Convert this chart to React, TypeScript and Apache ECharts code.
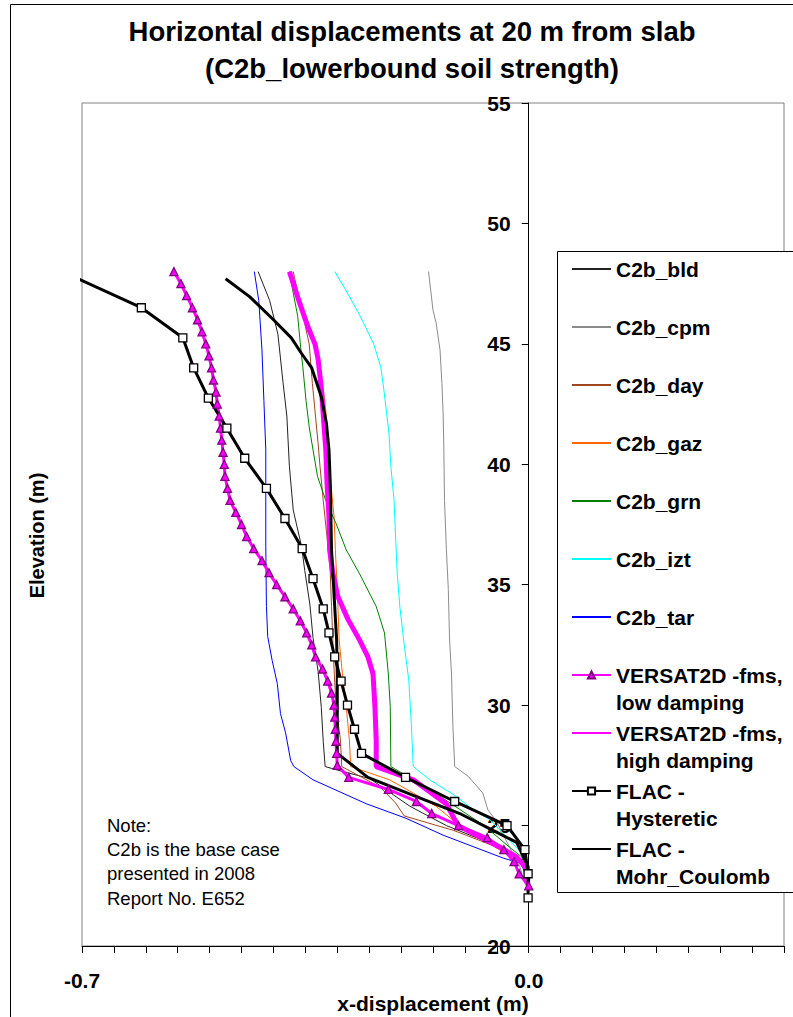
import { useEffect, useRef } from 'react';
import * as echarts from 'echarts';

const TITLE_LINES = ['Horizontal displacements at 20 m from slab', '(C2b_lowerbound soil strength)'];
const X_AXIS_NAME = 'x-displacement (m)';
const Y_AXIS_NAME = 'Elevation (m)';
const X_LABELLED_TICKS = [-0.7, 0.0];
const NOTE_LINES = ['Note:', 'C2b is the base case', 'presented in 2008', 'Report No. E652'];
const X_MIN = -0.7;
const X_MAX = 0.4;

// [x-displacement (m), elevation (m)]
const C2B_BLD: number[][] = [[-0.424,48],[-0.406,46.8],[-0.393,45.4],[-0.385,43.4],[-0.379,42.0],[-0.375,39.9],[-0.369,38.1],[-0.363,37.4],[-0.356,36.6],[-0.351,35.6],[-0.343,34.2],[-0.338,32.8],[-0.330,31.4],[-0.325,29.9],[-0.322,28.5],[-0.319,27.45],[-0.299,27.3],[-0.249,26.95],[-0.186,25.8],[-0.129,25.0],[-0.045,24.1],[-0.009,23.45],[0,22.7]];
const C2B_CPM: number[][] = [[-0.157,48],[-0.150,46.4],[-0.145,45.85],[-0.139,44.75],[-0.136,43.35],[-0.134,42.0],[-0.133,40.6],[-0.132,38.5],[-0.129,36.45],[-0.126,34.8],[-0.124,32.7],[-0.121,31.3],[-0.119,29.25],[-0.116,27.45],[-0.095,27.05],[-0.072,26.35],[-0.064,25.65],[-0.051,25.2],[-0.030,24.1],[-0.014,23.3],[-0.006,22.6],[0,22.3]];
const C2B_DAY: number[][] = [[-0.369,48],[-0.359,46.8],[-0.351,45.85],[-0.344,45.0],[-0.339,43.35],[-0.335,42.25],[-0.330,40.85],[-0.327,39.9],[-0.322,38.5],[-0.314,36.45],[-0.311,35.5],[-0.309,34.1],[-0.306,32.0],[-0.302,29.95],[-0.295,28.55],[-0.293,27.45],[-0.233,26.6],[-0.209,25.95],[-0.195,25.4],[-0.118,24.8],[-0.098,24.6],[-0.030,23.9],[-0.009,23.55],[-0.001,23.0],[0,22.5]];
const C2B_GAZ: number[][] = [[-0.374,48],[-0.355,46.55],[-0.339,45.45],[-0.329,44.35],[-0.323,43.35],[-0.318,42.25],[-0.314,40.85],[-0.310,39.2],[-0.305,37.8],[-0.303,36.45],[-0.300,34.8],[-0.297,32.7],[-0.292,31.3],[-0.286,29.95],[-0.281,28.55],[-0.279,27.45],[-0.218,26.9],[-0.181,26.35],[-0.145,25.8],[-0.113,25.1],[-0.074,24.45],[-0.040,23.9],[-0.019,23.65],[-0.006,23.3],[-0.001,22.95],[0,22.6]];
const C2B_GRN: number[][] = [[-0.375,48],[-0.370,47.25],[-0.362,46.15],[-0.357,44.75],[-0.354,44.05],[-0.349,42.65],[-0.344,41.55],[-0.338,40.6],[-0.331,39.5],[-0.318,38.5],[-0.302,37.55],[-0.286,36.45],[-0.265,35.45],[-0.239,34.1],[-0.226,33.0],[-0.220,31.3],[-0.217,29.95],[-0.216,27.45],[-0.155,26.5],[-0.070,25.0],[-0.030,24.1],[-0.011,23.7],[-0.004,23.15],[0,22.5]];
const C2B_IZT: number[][] = [[-0.304,48],[-0.287,47.25],[-0.264,46.15],[-0.243,45.0],[-0.232,44.05],[-0.227,43.1],[-0.219,41.3],[-0.216,39.9],[-0.211,38.5],[-0.208,36.6],[-0.206,35.45],[-0.202,34.1],[-0.196,32.7],[-0.188,31.05],[-0.184,29.25],[-0.181,27.45],[-0.155,26.9],[-0.113,26.2],[-0.087,25.65],[-0.061,25.25],[-0.030,24.4],[-0.011,23.85],[-0.004,23.3],[0,22.8]];
const C2B_TAR: number[][] = [[-0.430,48],[-0.423,46.8],[-0.418,44.75],[-0.415,42.65],[-0.412,40.6],[-0.412,36.6],[-0.411,34.1],[-0.409,32.85],[-0.402,31.85],[-0.394,30.9],[-0.389,29.65],[-0.381,28.85],[-0.373,27.7],[-0.368,27.45],[-0.338,26.9],[-0.254,25.9],[-0.192,25.3],[-0.134,24.6],[-0.040,23.65],[-0.014,23.45],[-0.001,22.9],[0,22.5]];
const VERSAT_LOW: number[][] = [[-0.556,48],[-0.545,47.5],[-0.536,47],[-0.527,46.5],[-0.519,46],[-0.512,45.5],[-0.506,45],[-0.501,44.5],[-0.497,44],[-0.494,43.5],[-0.490,43],[-0.488,42.5],[-0.485,42],[-0.483,41.5],[-0.481,41],[-0.479,40.5],[-0.477,40],[-0.476,39.5],[-0.472,39],[-0.468,38.5],[-0.459,38],[-0.450,37.5],[-0.442,37],[-0.431,36.5],[-0.418,36],[-0.407,35.5],[-0.395,35],[-0.382,34.5],[-0.369,34],[-0.358,33.5],[-0.348,33],[-0.340,32.5],[-0.334,32],[-0.323,31.5],[-0.315,31],[-0.309,30.5],[-0.305,30],[-0.304,29.5],[-0.303,29],[-0.302,28.5],[-0.301,28],[-0.300,27.5],[-0.282,27],[-0.220,26.5],[-0.176,26],[-0.152,25.5],[-0.110,25],[-0.065,24.5],[-0.039,24],[-0.023,23.5],[-0.015,23],[0,22.5]];
const VERSAT_HIGH: number[][] = [[-0.375,48],[-0.359,46.7],[-0.346,45.7],[-0.335,45.0],[-0.330,44.35],[-0.327,43.65],[-0.324,42.8],[-0.321,41.7],[-0.318,40.6],[-0.316,39.2],[-0.313,37.8],[-0.312,36.45],[-0.307,35.5],[-0.299,34.5],[-0.283,33.55],[-0.265,32.7],[-0.252,32.0],[-0.244,31.3],[-0.241,29.95],[-0.239,28.55],[-0.239,27.45],[-0.181,26.9],[-0.129,25.9],[-0.111,25.0],[-0.045,24.1],[-0.019,23.7],[-0.006,23.3],[-0.001,22.75]];
const FLAC_HYST: number[][] = [[-0.706,47.7],[-0.607,46.5],[-0.542,45.25],[-0.525,44.0],[-0.502,42.75],[-0.473,41.5],[-0.445,40.25],[-0.411,39.0],[-0.382,37.75],[-0.355,36.5],[-0.338,35.25],[-0.322,34.0],[-0.313,33.0],[-0.304,32.0],[-0.294,31.0],[-0.284,30.0],[-0.273,29.0],[-0.262,28.0],[-0.193,27.0],[-0.116,26.0],[-0.034,25.0],[-0.006,24.0],[-0.001,23.0],[-0.001,22.0]];
const FLAC_MC: number[][] = [[-0.475,47.7],[-0.437,46.95],[-0.400,46.0],[-0.372,45.25],[-0.356,44.6],[-0.340,44.0],[-0.325,42.8],[-0.317,41.7],[-0.313,40.6],[-0.311,39.2],[-0.309,36.45],[-0.307,35.5],[-0.301,32.7],[-0.300,31.3],[-0.300,28.0],[-0.252,27.0],[-0.181,26.25],[-0.108,25.5],[-0.056,24.8],[-0.019,24.3],[-0.001,23.3],[0,22.6]];

const FONT = '"Liberation Sans", Arial, Helvetica, sans-serif';
const GRID = { left: 82, top: 103, width: 702, height: 843 };

type Def = { name: string; data: number[][]; color: string; width: number; symbol?: string; fill?: string; border?: string };

const SERIES_DEFS: Def[] = [
  { name: 'C2b_bld', data: C2B_BLD, color: '#222222', width: 1 },
  { name: 'C2b_cpm', data: C2B_CPM, color: '#8c8c8c', width: 1 },
  { name: 'C2b_day', data: C2B_DAY, color: '#a0461e', width: 1 },
  { name: 'C2b_gaz', data: C2B_GAZ, color: '#ff6600', width: 1 },
  { name: 'C2b_grn', data: C2B_GRN, color: '#008000', width: 1 },
  { name: 'C2b_izt', data: C2B_IZT, color: '#00ffff', width: 1 },
  { name: 'C2b_tar', data: C2B_TAR, color: '#0000ff', width: 1 },
  { name: 'VERSAT2D -fms, low damping', data: VERSAT_LOW, color: '#ff00ff', width: 3, symbol: 'triangle', fill: '#ff00ff', border: '#800080' },
  { name: 'VERSAT2D -fms, high damping', data: VERSAT_HIGH, color: '#ff00ff', width: 5 },
  { name: 'FLAC - Hysteretic', data: FLAC_HYST, color: '#000000', width: 3, symbol: 'rect', fill: '#ffffff', border: '#000000' },
  { name: 'FLAC - Mohr_Coulomb', data: FLAC_MC, color: '#000000', width: 3 },
];

export default function App() {
  const ref = useRef<HTMLDivElement>(null);
  useEffect(() => {
    if (!ref.current) return;
    const chart = echarts.init(ref.current, null, { renderer: 'svg' });
    const series = SERIES_DEFS.map((d) => ({
      type: 'line',
      name: d.name,
      data: d.symbol === 'rect'
        ? d.data.map((p, i) => (i === 0 ? { value: p, symbol: 'none' } : p))
        : d.data,
      symbol: d.symbol || 'none',
      symbolSize: 8,
      showSymbol: !!d.symbol,
      clip: false,
      lineStyle: { color: d.color, width: d.width },
      itemStyle: d.symbol
        ? { color: d.fill, borderColor: d.border, borderWidth: 1.3 }
        : { color: d.color },
      emphasis: { disabled: true },
      silent: true,
    }));
    // y axis crosses the x axis at x = 0
    const yAxisOffset = -((0 - X_MIN) / (X_MAX - X_MIN)) * GRID.width;
    chart.setOption({
      animation: false,
      textStyle: { fontFamily: FONT },
      grid: {
        ...GRID, show: true, borderColor: '#808080', borderWidth: 1,
        containLabel: false, outerBoundsMode: 'none',
      },
      xAxis: {
        type: 'value', min: X_MIN, max: X_MAX, interval: 0.05,
        axisLine: { onZero: false, lineStyle: { color: '#000', width: 1 } },
        axisTick: { show: true, length: 7, lineStyle: { color: '#000' } },
        axisLabel: {
          margin: 24, fontSize: 21, fontWeight: 'bold', color: '#000', fontFamily: FONT,
          formatter: (v: number) => {
            const hit = X_LABELLED_TICKS.find((t) => Math.abs(t - v) < 1e-6);
            return hit === undefined ? '' : hit.toFixed(1);
          },
        },
        splitLine: { show: false },
        name: X_AXIS_NAME, nameLocation: 'middle', nameGap: 47, nameMoveOverlap: false,
        nameTextStyle: { fontSize: 21, fontWeight: 'bold', color: '#000', fontFamily: FONT },
      },
      yAxis: {
        type: 'value', min: 20, max: 55, interval: 5, position: 'left', offset: yAxisOffset,
        axisLine: { onZero: false, lineStyle: { color: '#000', width: 1 } },
        axisTick: { show: true, length: 7, lineStyle: { color: '#000' } },
        axisLabel: { margin: 18, fontSize: 21, fontWeight: 'bold', color: '#000', fontFamily: FONT },
        splitLine: { show: false },
        name: Y_AXIS_NAME, nameLocation: 'middle', nameGap: 482, nameRotate: 90, nameMoveOverlap: false,
        nameTextStyle: { fontSize: 20, fontWeight: 'bold', color: '#000', fontFamily: FONT, padding: [0, 22, 0, 0] },
      },
      legend: {
        orient: 'vertical', left: 571, top: 228.5, padding: 0, itemGap: -23,
        itemWidth: 39, itemHeight: 9, selectedMode: false, z: 200,
        data: SERIES_DEFS.map((d) => (d.symbol ? { name: d.name } : { name: d.name, itemStyle: { opacity: 0 } })),
        formatter: (name: string) => {
          const t = name.replace(', ', ',\n').replace(' - ', ' -\n');
          return t.includes('\n') ? '\n' + t : '\n' + t + '\n';
        },
        textStyle: { fontSize: 21, fontWeight: 'bold', color: '#000', lineHeight: 27, fontFamily: FONT },
      },
      graphic: [
        { type: 'rect', z: -10, silent: true, shape: { x: 10.5, y: 4.5, width: 900, height: 1100 }, style: { fill: 'none', stroke: '#000', lineWidth: 1 } },
        { type: 'rect', z: 150, silent: true, shape: { x: 557.5, y: 251.5, width: 300, height: 641 }, style: { fill: '#fff', stroke: '#000', lineWidth: 1 } },
        { type: 'text', z: 150, x: 412, y: 31, silent: true, style: { text: TITLE_LINES[0], fontSize: 27.5, fontWeight: 'bold', fontFamily: FONT, fill: '#000', textAlign: 'center', textVerticalAlign: 'middle' } },
        { type: 'text', z: 150, x: 412, y: 68, silent: true, style: { text: TITLE_LINES[1], fontSize: 27.5, fontWeight: 'bold', fontFamily: FONT, fill: '#000', textAlign: 'center', textVerticalAlign: 'middle' } },
        { type: 'text', z: 150, x: 107, y: 813, silent: true, style: { text: NOTE_LINES.join('\n'), fontSize: 18.5, lineHeight: 24.3, fontFamily: FONT, fill: '#000', textAlign: 'left', textVerticalAlign: 'top' } },
      ],
      series,
    });
    return () => chart.dispose();
  }, []);
  return <div ref={ref} style={{ position: 'absolute', left: 0, top: 0, width: 793, height: 1017 }} />;
}
